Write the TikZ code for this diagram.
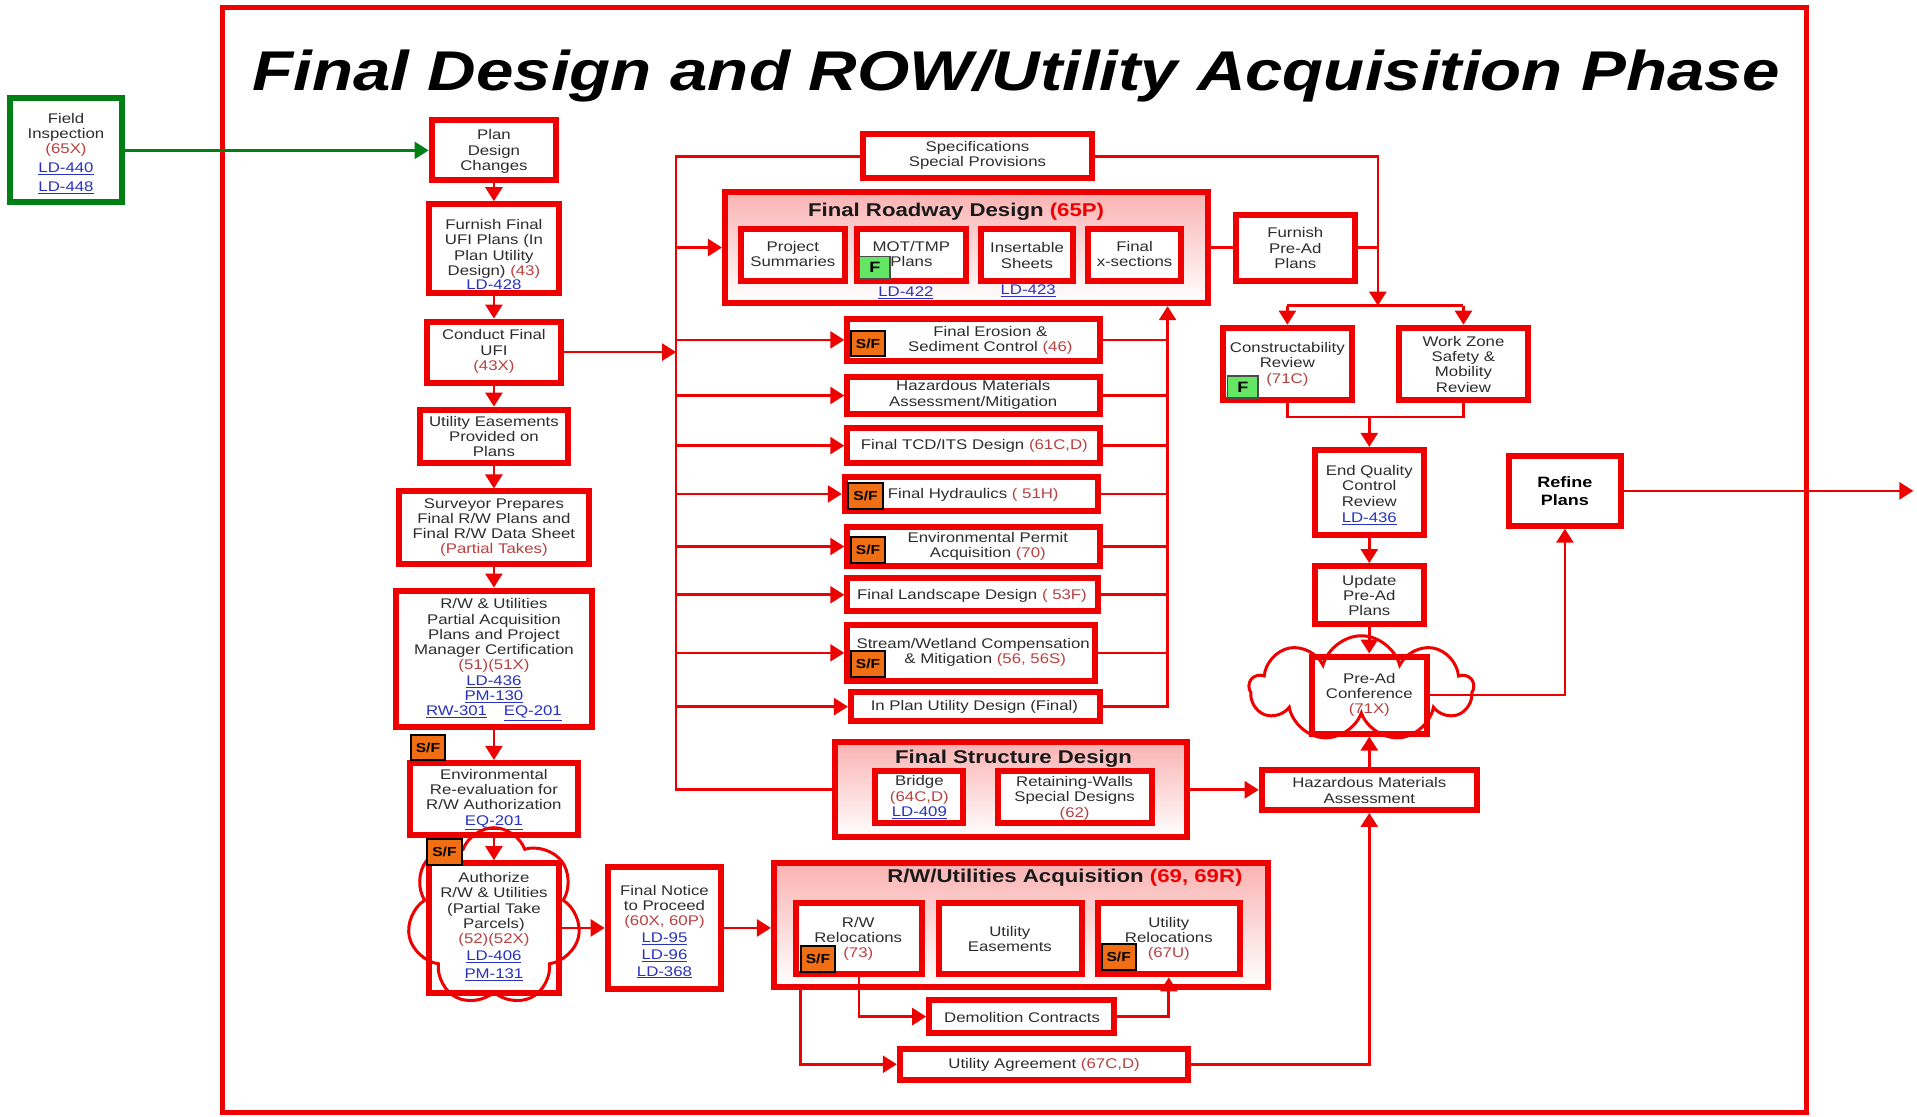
\documentclass[tikz,border=0pt]{standalone}
\usepackage{fontspec}
\setmainfont{Liberation Sans}[FakeStretch=1.2]
\usetikzlibrary{arrows.meta,shapes.symbols,calc}
\definecolor{rd}{RGB}{238,0,0}
\definecolor{gr}{RGB}{0,128,20}
\definecolor{txc}{RGB}{45,45,45}
\definecolor{lnk}{RGB}{40,50,190}
\definecolor{cdc}{RGB}{185,65,65}
\definecolor{org}{RGB}{240,110,20}
\definecolor{fgr}{RGB}{100,230,100}
\def\SC{1.2226}
\newcommand\bxf{\fontsize{14}{15.3}\selectfont}
\newcommand\grf{\fontsize{18.5}{20}\selectfont\bfseries}
\newcommand\lk[1]{\textcolor{lnk}{\underline{#1}}}
\newcommand\cd[1]{\textcolor{cdc}{#1}}
\tikzset{
  sz/.style 2 args={minimum width={#1*\SC pt}, minimum height={#2*\SC pt}},
  box/.style={rectangle, draw=rd, line width=6pt, fill=white, inner sep=0pt},
  grp/.style={rectangle, draw=rd, line width=6pt, top color=rd!30, bottom color=white, inner sep=0pt},
  txt/.style={align=center, text=txc, font=\bxf, inner sep=0pt},
  sfb/.style={rectangle, draw=black, line width=2pt, fill=org, font=\fontsize{13}{13}\selectfont\bfseries, text=black, inner sep=0pt, sz={28}{21}},
  fb/.style={rectangle, draw=black!70, line width=1.5pt, fill=fgr, font=\fontsize{15}{15}\selectfont\bfseries, text=black, inner sep=0pt, sz={25}{18}},
  ln/.style={draw=rd, line width=2.6pt},
  arr/.style={ln, -{Triangle[length=14pt,width=17pt]}},
  garr/.style={draw=gr, line width=2.6pt, -{Triangle[length=14pt,width=17pt]}},
  cld/.style={cloud, draw=rd, line width=3pt, cloud ignores aspect, inner sep=0pt}
}
\newcommand\Bx[6][]{\node[box,sz={#5}{#6},#1] (#2) at (#3,#4) {};}
\newcommand\Tx[5][]{\node[txt,#1] (#2) at (#3,#4) {#5};}
\begin{document}
\begin{tikzpicture}[x=1.2226pt,y=-1.2226pt]
\useasboundingbox (0,0) rectangle (1568,913);
% frame and title
\node[rectangle, draw=rd, line width=5pt, sz={1296}{904}] (frame) at (830,458) {};
\node[font=\fontsize{56}{60}\selectfont\bfseries\itshape, text=black, anchor=base, inner sep=0pt] (title) at (831,74) {Final Design and ROW/Utility Acquisition Phase};

% field inspection
\Bx[draw=gr]{fi}{54}{123}{92}{85}
\Tx{fit}{54}{125.5}{Field\\Inspection\\\cd{(65X)}\\[3.5pt]\lk{LD-440}\\[3.5pt]\lk{LD-448}}

% left column
\Bx{pdc}{404}{123}{102}{49}
\Bx{ffu}{404}{203.5}{106}{73}
\Bx{cfu}{404}{288}{110}{50}
\Bx{uep}{404}{357}{121}{44}
\Bx{spf}{404}{431.5}{156}{59}
\Bx{rwu}{404}{539}{160}{112}
\Bx{env}{404}{653.5}{138}{59}
\Bx{auth}{404}{759}{106}{106}
\Bx{fnp}{543.5}{759}{93}{100}
\Tx{pdct}{404}{124}{Plan\\Design\\Changes}
\Tx{ffut}{404}{209}{Furnish Final\\UFI Plans (In\\Plan Utility\\Design) \cd{(43)}\\[-1.5pt]\lk{LD-428}}
\Tx{cfut}{404}{287.5}{Conduct Final\\UFI\\\cd{(43X)}}
\Tx{uept}{404}{357}{Utility Easements\\Provided on\\Plans}
\Tx{spft}{404}{431.5}{Surveyor Prepares\\Final R/W Plans and\\Final R/W Data Sheet\\\cd{(Partial Takes)}}
\Tx{rwut}{404}{539.5}{R/W \& Utilities\\Partial Acquisition\\Plans and Project\\Manager Certification\\\cd{(51)(51X)}\\\lk{LD-436}\\\lk{PM-130}\\\lk{RW-301}\hspace{1.2em}\lk{EQ-201}}
\Tx{envt}{404}{654}{Environmental\\Re-evaluation for\\R/W Authorization\\\lk{EQ-201}}
\Tx{autht}{404}{758}{Authorize\\R/W \& Utilities\\(Partial Take\\Parcels)\\\cd{(52)(52X)}\\[1.5pt]\lk{LD-406}\\[3pt]\lk{PM-131}}
\Tx{fnpt}{543.5}{762}{Final Notice\\to Proceed\\\cd{(60X, 60P)}\\[1.5pt]\lk{LD-95}\\[1.5pt]\lk{LD-96}\\[1.5pt]\lk{LD-368}}
\node[cld, sz={142}{146}, cloud puffs=7, cloud puff arc=140] (authc) at (404,750) {};

% specifications
\Bx{specs}{799.5}{128}{187}{36}
\Tx{specst}{799.5}{127}{Specifications\\Special Provisions}

% final roadway design
\Bx[grp]{frd}{790.5}{202.5}{395}{91}
\Tx[font=\grf, text=black!90]{frdt}{782}{173}{Final Roadway Design \textcolor{rd}{(65P)}}
\Bx{ps}{648.5}{208.5}{85}{43}
\Bx{mot}{745.5}{208.5}{89}{43}
\Bx{ins}{840}{208.5}{76}{43}
\Bx{fxs}{928}{208.5}{76}{43}
\Tx{pst}{648.5}{208}{Project\\Summaries}
\Tx{mott}{745.5}{208}{MOT/TMP\\Plans}
\Tx{inst}{840}{209}{Insertable\\Sheets}
\Tx{fxst}{928}{208}{Final\\x-sections}
\Tx{ld422}{741}{239.5}{\lk{LD-422}}
\Tx{ld423}{841}{237.5}{\lk{LD-423}}
\node[fb] (f1) at (715.5,219) {F};

\Bx{fpa}{1059.5}{202.5}{97}{54}
\Tx{fpat}{1059.5}{203}{Furnish\\Pre-Ad\\Plans}

% middle column
\Bx{ero}{796.5}{278}{207}{34}
\Bx{haz}{796.5}{323.5}{207}{31}
\Bx{tcd}{796.5}{364.5}{207}{29}
\Bx{hyd}{794.5}{404}{207}{28}
\Bx{epa}{796.5}{447}{207}{32}
\Bx{lsc}{795.5}{486.5}{205}{27}
\Bx{stw}{794.5}{534}{203}{46}
\Bx{ipu}{798}{578}{204}{24}
\Tx{erot}{810}{278.5}{Final Erosion \&\\Sediment Control \cd{(46)}}
\Tx{hazt}{796}{323}{Hazardous Materials\\Assessment/Mitigation}
\Tx{tcdt}{797}{365}{Final TCD/ITS Design \cd{(61C,D)}}
\Tx{hydt}{796}{404.5}{Final Hydraulics \cd{( 51H)}}
\Tx{epat}{808}{447}{Environmental Permit\\Acquisition \cd{(70)}}
\Tx{lsct}{795}{487}{Final Landscape Design \cd{( 53F)}}
\Tx{stwt}{796}{533.5}{Stream/Wetland Compensation\\\hspace*{24pt}\& Mitigation \cd{(56, 56S)}}
\Tx{iput}{797}{578.5}{In Plan Utility Design (Final)}
\node[sfb] (sf3) at (710,281) {S/F};
\node[sfb] (sf4) at (708,405.5) {S/F};
\node[sfb] (sf5) at (710,450) {S/F};
\node[sfb] (sf6) at (710,543) {S/F};

% final structure design
\Bx[grp]{fsd}{827}{646}{288}{78}
\Tx[font=\grf, text=black!90]{fsdt}{829}{621}{Final Structure Design}
\Bx{brg}{752}{652}{72}{42}
\Bx{rtw}{879}{652}{126}{42}
\Tx{brgt}{752}{652}{Bridge\\\cd{(64C,D)}\\\lk{LD-409}}
\Tx{rtwt}{879}{653}{Retaining-Walls\\Special Designs\\\cd{(62)}}

\Bx{hma}{1120}{646}{176}{33}
\Tx{hmat}{1120}{646.5}{Hazardous Materials\\Assessment}

% R/W utilities acquisition
\Bx[grp]{rwa}{835}{756.5}{404}{101}
\Tx[font=\grf, text=black!90]{rwat}{871}{718}{R/W/Utilities Acquisition \textcolor{rd}{(69, 69R)}}
\Bx{rwr}{702.5}{768}{103}{58}
\Bx{ue}{826.5}{768}{117}{58}
\Bx{ur}{956}{768}{116}{58}
\Tx{rwrt}{702}{768}{R/W\\Relocations\\\cd{(73)}}
\Tx{uet}{826}{768}{Utility\\Easements}
\Tx{urt}{956}{768}{Utility\\Relocations\\\cd{(67U)}}
\node[sfb] (sf7) at (669,784.5) {S/F};
\node[sfb] (sf8) at (915,782.5) {S/F};
\Bx{dem}{835.5}{831.5}{151}{27}
\Tx{demt}{836}{832}{Demolition Contracts}
\Bx{ua}{854}{870.5}{236}{25}
\Tx{uat}{854}{871}{Utility Agreement \cd{(67C,D)}}

% right column
\Bx{cr}{1053}{297.5}{106}{59}
\Bx{wz}{1197}{297.5}{106}{59}
\Tx{crt}{1053}{298}{Constructability\\Review\\\cd{(71C)}}
\Tx{wzt}{1197}{298}{Work Zone\\Safety \&\\Mobility\\Review}
\node[fb] (f2) at (1016.5,316.5) {F};
\Bx{eq}{1120}{403}{89}{70}
\Tx{eqt}{1120}{405}{End Quality\\Control\\Review\\[1.5pt]\lk{LD-436}}
\Bx{upd}{1120}{486.5}{89}{47}
\Tx{updt}{1120}{487}{Update\\Pre-Ad\\Plans}
\Bx{prad}{1120}{568.5}{94}{63}
\Tx{pradt}{1120}{568.5}{Pre-Ad\\Conference\\\cd{(71X)}}
\node[cld, sz={183}{86}, cloud puffs=9] (pradc) at (1113.5,563) {};
\Bx{refine}{1280}{401.5}{92}{57}
\Tx[font=\fontsize{15}{18.3}\selectfont\bfseries, text=black]{refinet}{1280}{401.5}{Refine\\Plans}

% coordinates
\coordinate (busT) at (553,128);
\coordinate (busB) at (553,646);
\coordinate (colB) at (955,578);
\coordinate (jR) at (1127,250);
\coordinate (jB) at (1120,341);
\coordinate (out) at (1565,401.5);

% connectors
\draw[garr] (fi.east) -- (fi.east -| pdc.west);
\draw[arr] (pdc.south) -- (ffu.north);
\draw[arr] (ffu.south) -- (cfu.north);
\draw[arr] (cfu.south) -- (uep.north);
\draw[arr] (uep.south) -- (spf.north);
\draw[arr] (spf.south) -- (rwu.north);
\draw[arr] (rwu.south) -- (env.north);
\draw[arr] (env.south) -- (auth.north);
\draw[arr] (auth.east) -- (auth.east -| fnp.west);
\draw[arr] (fnp.east) -- (fnp.east -| rwa.west);

\draw[ln] (specs.west) -- (busT) -- (busB) -- (fsd.west);
\draw[arr] (cfu.east) -- (cfu.east -| busT);
\draw[arr] (busT |- frd.west) -- (frd.west);
\foreach \n in {ero,haz,tcd,hyd,epa,lsc,stw,ipu} \draw[arr] (busT |- \n.west) -- (\n.west);
\foreach \n in {ero,haz,tcd,hyd,epa,lsc,stw} \draw[ln] (\n.east) -- (\n.east -| colB);
\draw[arr] (ipu.east) -- (colB) -- (colB |- frd.south);

\draw[arr] (specs.east) -| (jR);
\draw[ln] (frd.east) -- (fpa.west);
\draw[ln] (fpa.east) -- (fpa.east -| jR);
\draw[ln] (jR -| cr.north) -- (jR -| wz.north);
\draw[arr] (jR -| cr.north) -- (cr.north);
\draw[arr] (jR -| wz.north) -- (wz.north);
\draw[ln] (cr.south) |- (wz.south |- jB) -- (wz.south);
\draw[arr] (jB) -- (eq.north);
\draw[arr] (eq.south) -- (upd.north);
\draw[arr] (upd.south) -- (prad.north);
\draw[arr] (hma.north) -- (hma.north |- prad.south);
\draw[arr] (prad.east) -| (refine.south);
\draw[arr] (refine.east) -- (out);

\draw[arr] (fsd.east) -- (fsd.east -| hma.west);
\draw[arr] (ua.east) -| (hma.south);
\draw[arr] (rwr.south) |- (dem.west);
\draw[arr] (dem.east) -| (ur.south);
\draw[arr] ($(rwa.south west)+(24,0)$) |- (ua.west);

% badges on left column
\node[sfb] (sf1) at (350,611.5) {S/F};
\node[sfb] (sf2) at (363.5,697) {S/F};
\end{tikzpicture}
\end{document}
